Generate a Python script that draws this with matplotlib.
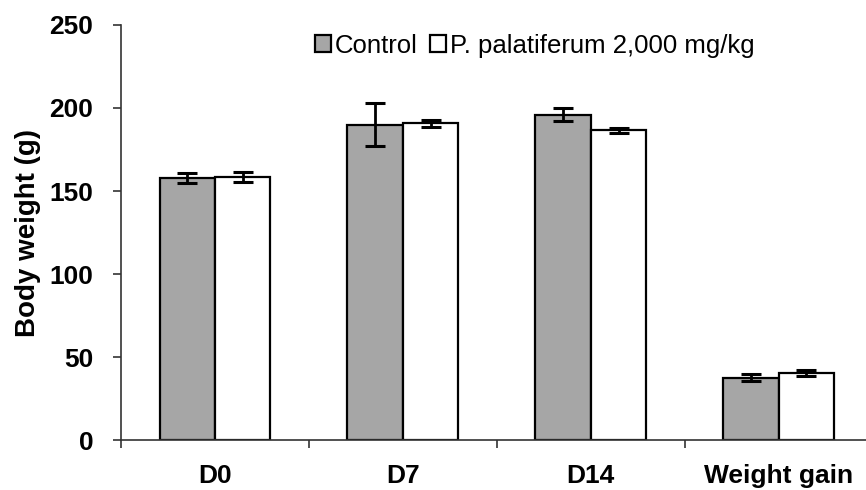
import matplotlib.pyplot as plt
import numpy as np

categories = ['D0', 'D7', 'D14', 'Weight gain']
control = [158, 190, 196, 37.5]
control_err = [3, 13, 4, 2.2]
treated = [158.6, 190.8, 186.5, 40.4]
treated_err = [3, 2, 1.5, 2]

plt.rcParams['font.family'] = ['Liberation Sans', 'DejaVu Sans']

fig = plt.figure(figsize=(8.66, 4.9), dpi=100)
ax = fig.add_axes([0.1397, 0.102, 0.868, 0.847])

x = np.arange(len(categories))
w = 0.295
ax.bar(x - w / 2, control, w, color='#a6a6a6', edgecolor='black', linewidth=1.6,
       label='Control', zorder=2)
ax.bar(x + w / 2, treated, w, color='white', edgecolor='black', linewidth=1.6,
       label='P. palatiferum 2,000 mg/kg', zorder=2)
ax.errorbar(x - w / 2, control, yerr=control_err, fmt='none', ecolor='black',
            elinewidth=2, capsize=7.5, capthick=2.2, zorder=3)
ax.errorbar(x + w / 2, treated, yerr=treated_err, fmt='none', ecolor='black',
            elinewidth=2, capsize=7.5, capthick=2.2, zorder=3)

ax.set_xlim(-0.5, 3.5)
ax.set_ylim(0, 250)
ax.set_yticks(range(0, 251, 50))
ax.set_xticks(x)
ax.set_xticklabels(categories, fontsize=19, fontweight='bold')
ax.tick_params(axis='x', which='major', length=0, pad=17)
ax.set_xticks(np.arange(-0.5, 3.6, 1), minor=True)
ax.tick_params(axis='x', which='minor', length=6, width=1.2, direction='out', color='#333333')
ax.tick_params(axis='y', length=6, width=1.2, direction='out', color='#333333', pad=14)
for lab in ax.get_yticklabels():
    lab.set_fontsize(19)
    lab.set_fontweight('bold')

ax.set_ylabel('Body weight (g)', fontsize=20, fontweight='bold', labelpad=6)

for s in ['top', 'right']:
    ax.spines[s].set_visible(False)
for s in ['left', 'bottom']:
    ax.spines[s].set_linewidth(1.2)
    ax.spines[s].set_color('#333333')

ax.legend(loc='upper left', bbox_to_anchor=(0.228, 1.035), ncol=2, frameon=False,
          fontsize=18.5, handlelength=0.6, handleheight=0.6, handletextpad=0.15,
          columnspacing=0.5)

fig.savefig('out.png', dpi=100)
